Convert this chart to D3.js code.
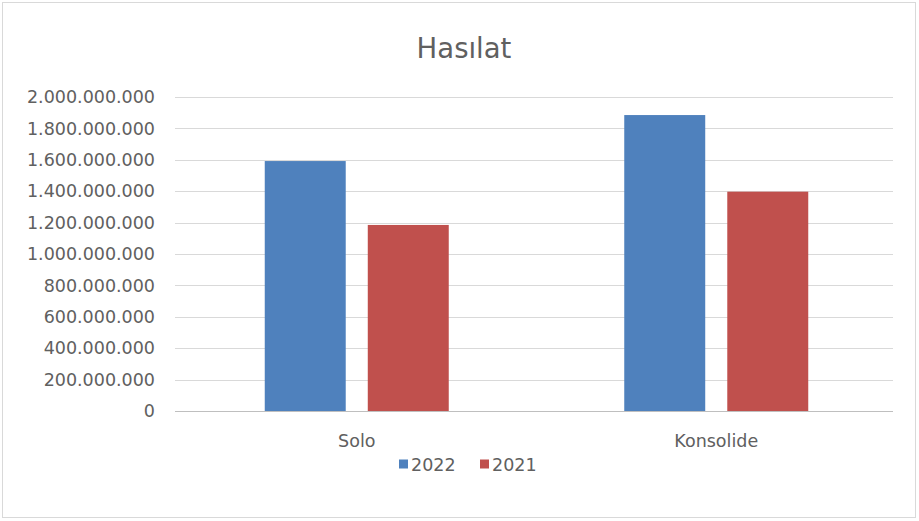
<!DOCTYPE html>
<html>
<head>
<meta charset="utf-8">
<script src="https://cdn.jsdelivr.net/npm/d3@7"></script>
<style>
  html, body { margin: 0; padding: 0; background: #fff; }
  svg text { font-family: "DejaVu Sans", sans-serif; fill: #606060; }
</style>
</head>
<body>
<svg id="chart" width="919" height="521"></svg>
<script>
// Revenue (Hasılat) by reporting basis, two years
const categories = ["Solo", "Konsolide"];
const seriesNames = ["2022", "2021"];
const values2022 = [1592000000, 1885000000];
const values2021 = [1185000000, 1397000000];
const tickValues = [0, 200000000, 400000000, 600000000, 800000000, 1000000000,
                    1200000000, 1400000000, 1600000000, 1800000000, 2000000000];
const colors = ["#4f81bd", "#c0504d"];

const series = [values2022, values2021];
const svg = d3.select("#chart");
const W = 919, H = 521;
const margin = { left: 175, right: 26, top: 97, bottom: 110 };
const groupWidth = 184;

// outer frame
svg.append("rect")
  .attr("x", 2.5).attr("y", 2.5)
  .attr("width", W - 6).attr("height", H - 6)
  .attr("fill", "#fff").attr("stroke", "#d9d9d9");

const x0 = d3.scaleBand()
  .domain(categories)
  .range([margin.left + 2, W - margin.right + 3])
  .paddingInner(0).paddingOuter(0);

const x1 = d3.scaleBand()
  .domain(seriesNames)
  .range([0, groupWidth])
  .paddingInner(0.214);

const y = d3.scaleLinear()
  .domain([0, 2000000000])
  .range([H - margin.bottom, margin.top]);

const fmt = v => d3.format(",")(v).replace(/,/g, ".");

// gridlines
svg.append("g")
  .selectAll("line")
  .data(tickValues)
  .join("line")
  .attr("x1", margin.left).attr("x2", W - margin.right)
  .attr("y1", d => Math.round(y(d)) + 0.5).attr("y2", d => Math.round(y(d)) + 0.5)
  .attr("stroke", d => d === 0 ? "#bfbfbf" : "#d9d9d9")
  .attr("stroke-width", 1);

// y axis labels
const yAxis = d3.axisLeft(y).tickValues(tickValues).tickFormat(fmt).tickSize(0).tickPadding(0);
const gy = svg.append("g")
  .attr("transform", `translate(${margin.left - 20},0)`)
  .call(yAxis);
gy.select(".domain").remove();
gy.selectAll("text")
  .attr("font-size", 17.5)
  .attr("font-family", "DejaVu Sans, sans-serif")
  .style("fill", "#606060");

// bars
categories.forEach((cat, ci) => {
  const groupStart = x0(cat) + (x0.bandwidth() - groupWidth) / 2;
  svg.append("g")
    .selectAll("rect")
    .data(seriesNames.map((s, si) => ({ s, v: series[si][ci], c: colors[si] })))
    .join("rect")
    .attr("x", d => groupStart + x1(d.s))
    .attr("y", d => y(d.v))
    .attr("width", x1.bandwidth())
    .attr("height", d => y(0) - y(d.v))
    .attr("fill", d => d.c);
});

// category labels
const xAxis = d3.axisBottom(x0).tickSize(0).tickPadding(0);
const gx = svg.append("g")
  .attr("transform", `translate(0,${y(0) + 36})`)
  .call(xAxis);
gx.select(".domain").remove();
gx.selectAll("text")
  .attr("font-size", 17.5)
  .attr("font-family", "DejaVu Sans, sans-serif")
  .attr("dy", 0)
  .style("fill", "#606060");

// title
svg.append("text")
  .attr("x", 464).attr("y", 58)
  .attr("text-anchor", "middle")
  .attr("font-size", 27.5)
  .text("Hasılat");

// legend
const legend = svg.append("g").attr("transform", "translate(399,464)");
const legendX = [0, 81];
seriesNames.forEach((s, i) => {
  const g = legend.append("g").attr("transform", `translate(${legendX[i]},0)`);
  g.append("rect").attr("x", 0).attr("y", -4.5).attr("width", 9).attr("height", 9).attr("fill", colors[i]);
  g.append("text").attr("x", 12).attr("y", 6.5).attr("font-size", 17.5).text(s);
});
</script>
</body>
</html>
